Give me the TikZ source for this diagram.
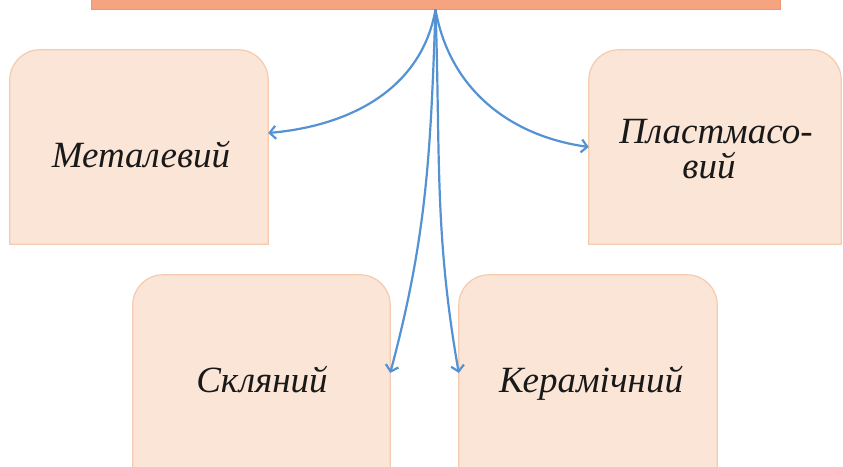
\documentclass[tikz,border=0pt]{standalone}
\usepackage{fontspec}
\setmainfont{Liberation Serif}
\usetikzlibrary{arrows.meta,calc}
\definecolor{boxfill}{RGB}{251,229,214}
\definecolor{boxline}{RGB}{245,203,175}
\definecolor{barfill}{RGB}{246,164,128}
\definecolor{barline}{RGB}{238,150,112}
\definecolor{arrowblue}{RGB}{84,146,212}
\tikzset{
  box/.style={minimum width=258pt, minimum height=194pt, inner sep=0pt, draw=none},
  boxshape/.style={fill=boxfill, draw=boxline, line width=1.2pt},
  lbl/.style={font=\itshape\fontsize{37}{44}\selectfont, text=black!90, anchor=base, inner sep=0pt},
  conn/.style={draw=arrowblue, line width=2.2pt, -{Straight Barb[length=6pt,width=13pt]}}
}
\newcommand\roundtopbox[1]{%
  \draw[boxshape] (#1.south west) -- ([yshift=-30pt]#1.north west)
    arc[start angle=180,end angle=90,radius=30pt] -- ([xshift=-30pt]#1.north east)
    arc[start angle=90,end angle=0,radius=30pt] -- (#1.south east) -- cycle;}
\begin{document}
\begin{tikzpicture}[x=1pt,y=-1pt]
\useasboundingbox (0,0) rectangle (843,466);
\fill[white] (0,0) rectangle (843,466);
\node[fill=barfill, draw=barline, line width=1pt, minimum width=689pt, minimum height=40pt, inner sep=0pt] (top) at (435.5,-11) {};
\node[box] (metal) at (139,147) {};
\node[box, minimum width=252pt] (plast) at (715,147) {};
\node[box, minimum width=257pt, minimum height=196pt] (sklo) at (261.5,373) {};
\node[box, minimum height=196pt] (keram) at (588,373) {};
\roundtopbox{metal}
\roundtopbox{plast}
\roundtopbox{sklo}
\roundtopbox{keram}
\node[lbl] (metalT) at (141,167) {Металевий};
\node[lbl] (plastA) at (716,143) {Пластмасо-};
\node[lbl] (plastB) at (709,178) {вий};
\node[lbl] (skloT) at (262,392) {Скляний};
\node[lbl] (keramT) at (591,392) {Керамічний};
\draw[conn] (top.south) to[out=-100,in=5] ([yshift=14pt]metal.east);
\draw[conn] (top.south) to[out=-80,in=172] (plast.west);
\draw[conn] (top.south) to[out=-92,in=75] (sklo.east);
\draw[conn] (top.south) to[out=-88,in=100] (keram.west);
\end{tikzpicture}
\end{document}
